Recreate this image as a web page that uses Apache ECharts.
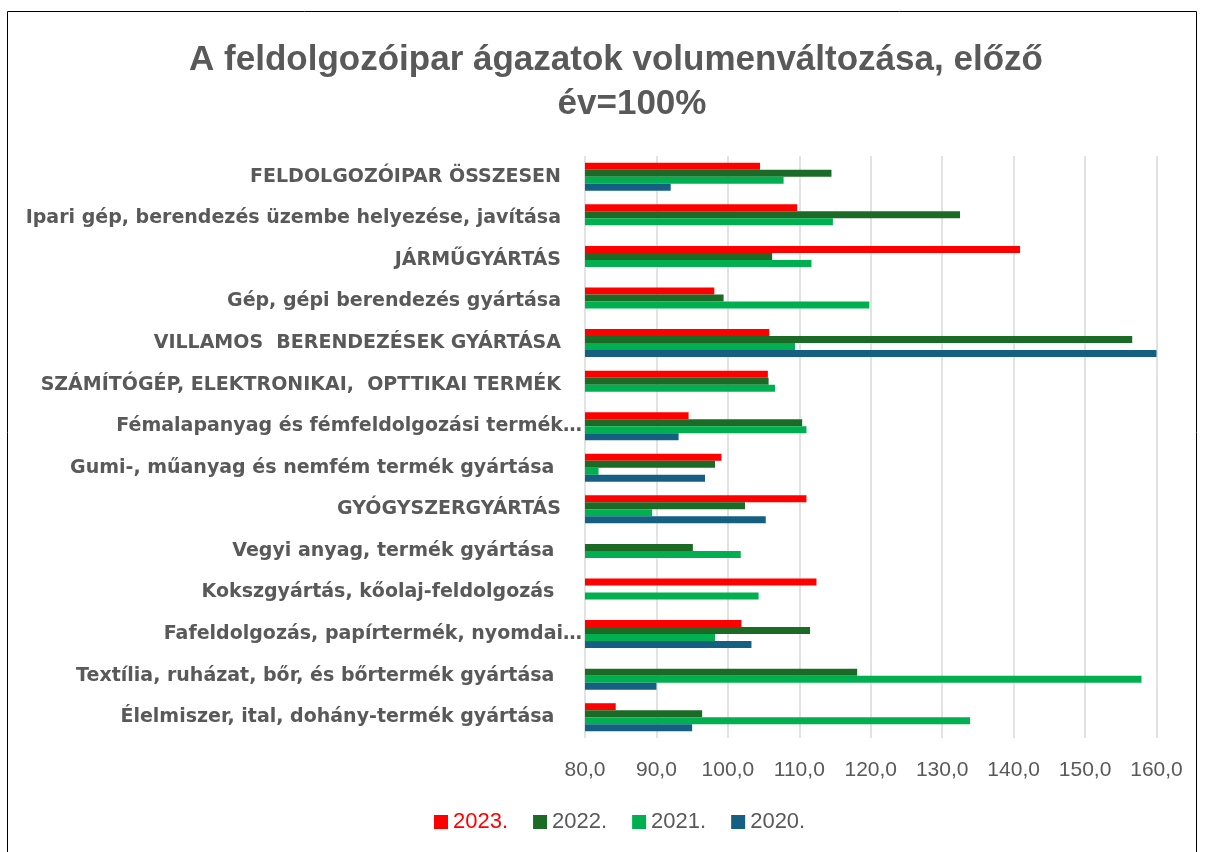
<!DOCTYPE html>
<html>
<head>
<meta charset="utf-8">
<script src="https://cdn.jsdelivr.net/npm/echarts@6/dist/echarts.min.js"></script>
<style>
html,body{margin:0;padding:0;background:#fff;}
#c{width:1206px;height:852px;}
</style>
</head>
<body>
<div id="c"></div>
<script>
const categories = [
  'FELDOLGOZÓIPAR ÖSSZESEN',
  'Ipari gép, berendezés üzembe helyezése, javítása',
  'JÁRMŰGYÁRTÁS',
  'Gép, gépi berendezés gyártása',
  'VILLAMOS  BERENDEZÉSEK GYÁRTÁSA',
  'SZÁMÍTÓGÉP, ELEKTRONIKAI,  OPTTIKAI TERMÉK',
  'Fémalapanyag és fémfeldolgozási termék…',
  'Gumi-, műanyag és nemfém termék gyártása ',
  'GYÓGYSZERGYÁRTÁS',
  'Vegyi anyag, termék gyártása ',
  'Kokszgyártás, kőolaj-feldolgozás ',
  'Fafeldolgozás, papírtermék, nyomdai…',
  'Textília, ruházat, bőr, és bőrtermék gyártása ',
  'Élelmiszer, ital, dohány-termék gyártása '
];
const seriesNames = ['2023.', '2022.', '2021.', '2020.'];
const v2023 = [104.5, 109.7, 140.9, 98.1, 105.8, 105.6, 94.5, 99.1, 111.0, null, 112.4, 101.9, null, 84.3];
const v2022 = [114.5, 132.5, 106.2, 99.4, 156.6, 105.7, 110.4, 98.2, 102.4, 95.1, null, 111.5, 118.1, 96.4];
const v2021 = [107.8, 114.7, 111.7, 119.8, 109.4, 106.6, 111.0, 81.9, 89.4, 101.8, 104.3, 98.2, 157.9, 133.9];
const v2020 = [92.0, null, null, null, 160.2, null, 93.1, 96.8, 105.3, null, null, 103.3, 90.0, 95.0];
const xTicks = [80, 90, 100, 110, 120, 130, 140, 150, 160];
const titleLines = ['A feldolgozóipar ágazatok volumenváltozása, előző', 'év=100%'];
const colors = ['#FF0000', '#1B6B27', '#00B050', '#156082'];

const seriesData = [v2023, v2022, v2021, v2020];
const chart = echarts.init(document.getElementById('c'), null, {renderer: 'canvas'});
const labelFont = '"Liberation Sans", Arial, sans-serif';
const catFont = '"DejaVu Sans", sans-serif';
const titleStyle = {
  fontFamily: labelFont,
  fontWeight: 'bold',
  fontSize: 35,
  color: '#595959'
};

chart.setOption({
  animation: false,
  backgroundColor: '#fff',
  color: colors,
  title: [
    {text: titleLines[0], left: 611, textAlign: 'center', top: 38, textStyle: titleStyle},
    {text: titleLines[1], left: 627, textAlign: 'center', top: 82, textStyle: titleStyle}
  ],
  graphic: [{
    type: 'rect',
    shape: {x: 7.5, y: 11.5, width: 1189, height: 900},
    style: {fill: 'none', stroke: '#000', lineWidth: 1},
    silent: true,
    z: 100
  }],
  legend: {
    bottom: 14,
    left: 429,
    itemWidth: 14,
    itemHeight: 14,
    itemGap: 25,
    icon: 'rect',
    textStyle: {fontFamily: labelFont, fontSize: 22, color: '#595959'},
    data: seriesNames.map((n, i) => i === 0 ? {name: n, textStyle: {color: '#FF0000'}} : {name: n})
  },
  grid: {left: 585, right: 49.5, top: 156, bottom: 114, containLabel: false},
  xAxis: {
    type: 'value',
    min: xTicks[0],
    max: xTicks[xTicks.length - 1],
    interval: 10,
    axisLine: {show: false},
    axisTick: {show: false},
    splitLine: {show: true, lineStyle: {color: '#D9D9D9', width: 1.5}},
    axisLabel: {
      margin: 22,
      fontFamily: labelFont,
      fontSize: 21,
      color: '#595959',
      formatter: v => v.toFixed(1).replace('.', ',')
    }
  },
  yAxis: {
    type: 'category',
    inverse: true,
    data: categories,
    axisLine: {show: false},
    axisTick: {show: false},
    axisLabel: {
      margin: 3,
      formatter: v => v.endsWith('…') ? '{t|' + v + '}' : '{n|' + v + '}',
      rich: {
        n: {fontFamily: catFont, fontWeight: 'bold', fontSize: 19, color: '#595959', padding: [0, 21, 0, 0]},
        t: {fontFamily: catFont, fontWeight: 'bold', fontSize: 19, color: '#595959'}
      }
    }
  },
  series: seriesNames.map((n, i) => ({
    name: n,
    type: 'bar',
    data: seriesData[i],
    barWidth: 7,
    barGap: '0%',
    itemStyle: {color: colors[i]}
  }))
});
</script>
</body>
</html>
